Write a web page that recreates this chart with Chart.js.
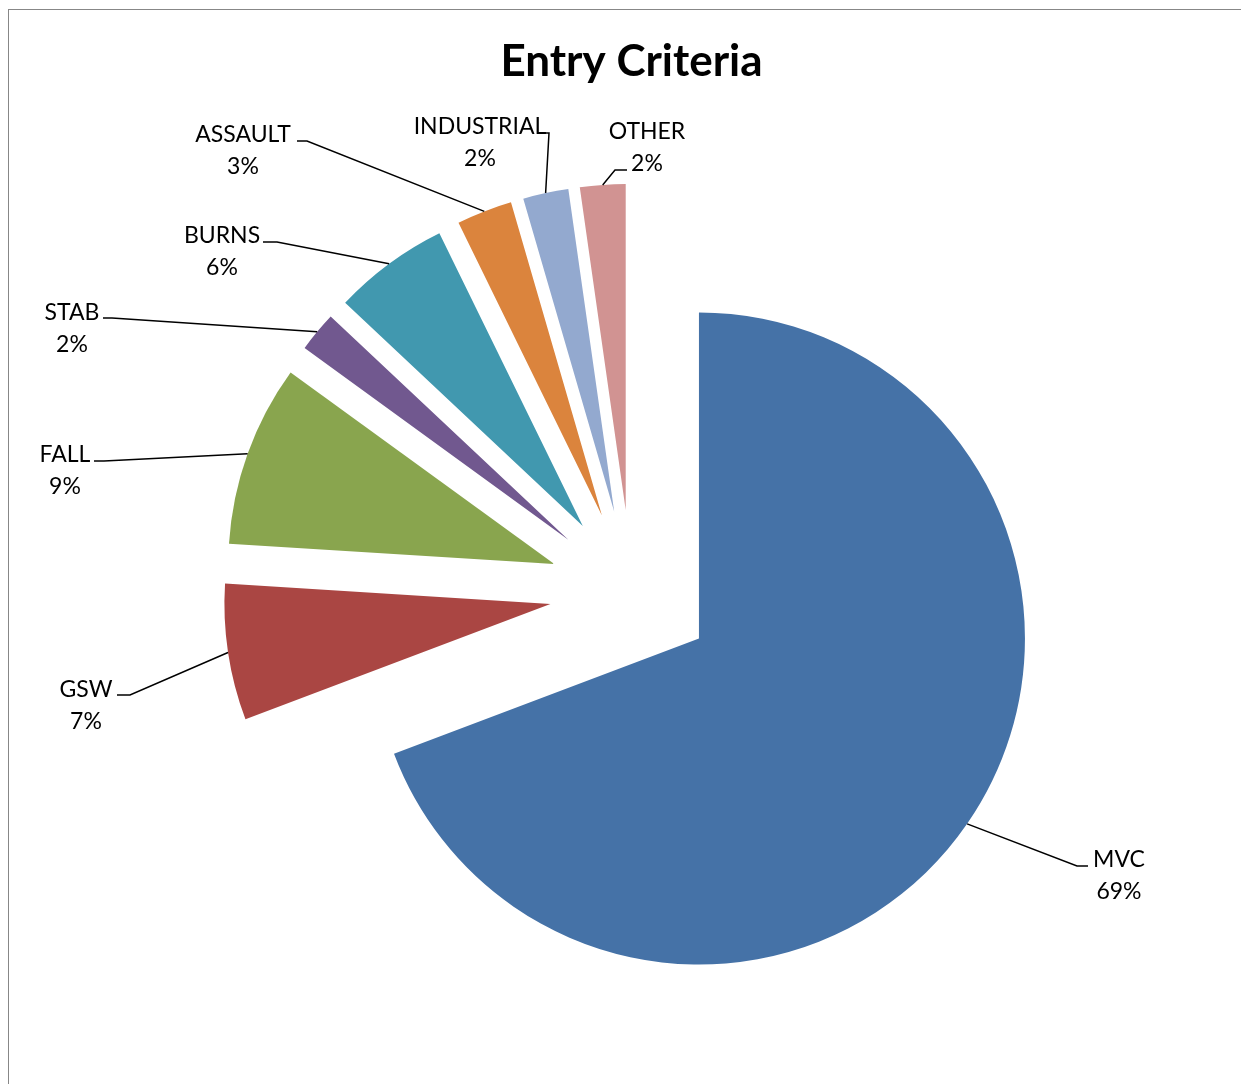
<!DOCTYPE html>
<html>
<head>
<meta charset="utf-8">
<title>Entry Criteria</title>
<script src="https://cdn.jsdelivr.net/npm/chart.js@4.4.1/dist/chart.umd.min.js"></script>
<style>
  html, body { margin: 0; padding: 0; background: #fff; overflow: hidden; }
  #wrap { position: relative; width: 1241px; height: 1084px; }
  #frame { position: absolute; left: 8px; top: 9px; width: 1300px; height: 1200px;
           border: 1px solid #878787; pointer-events: none; }
</style>
</head>
<body>
<div id="wrap">
  <canvas id="myChart"></canvas>
  <div id="frame"></div>
</div>
<script>
// data (counts, rounded percentages shown as labels)
const categories = ['MVC', 'GSW', 'FALL', 'STAB', 'BURNS', 'ASSAULT', 'INDUSTRIAL', 'OTHER'];
const counts = [277, 27, 36, 8, 23, 11, 9, 9];
const sliceColors = ['#4572A7', '#AA4643', '#89A54E', '#71588F', '#4198AF', '#DB843D', '#93A9CF', '#D19392'];

// where each data label sits, and where its leader line bends and ends
const labelLayout = [
    { x: 1119, y: 876, bend: [1077, 866], end: [1088, 866] },
    { x: 86,   y: 706, bend: [130, 695],  end: [117, 695] },
    { x: 65,   y: 471, bend: [104, 461],  end: [94, 461] },
    { x: 72,   y: 329, bend: [112, 318],  end: [103, 318] },
    { x: 222,  y: 252, bend: [277, 242],  end: [263, 242] },
    { x: 243,  y: 151, bend: [307, 141],  end: [297, 141] },
    { x: 480,  y: 143, bend: [549, 133],  end: [545, 133] },
    { x: 647,  y: 148, bend: [615, 170],  end: [627, 170] }
];

const explode = 82;     // every slice pulled out by the same distance
const pieRadius = 326;

// push each arc outward along its mid angle (Excel style explosion)
const explodePlugin = {
    id: 'explode',
    afterDatasetsUpdate(chart) {
        chart.getDatasetMeta(0).data.forEach(arc => {
            const mid = (arc.startAngle + arc.endAngle) / 2;
            arc.x += Math.cos(mid) * explode;
            arc.y += Math.sin(mid) * explode;
        });
    }
};

const labelPlugin = {
    id: 'sliceLabels',
    afterDatasetsDraw(chart) {
        const ctx = chart.ctx;
        const total = counts.reduce((a, b) => a + b, 0);
        ctx.save();
        chart.getDatasetMeta(0).data.forEach((arc, i) => {
            const mid = (arc.startAngle + arc.endAngle) / 2;
            const sx = arc.x + Math.cos(mid) * arc.outerRadius;
            const sy = arc.y + Math.sin(mid) * arc.outerRadius;
            const lay = labelLayout[i];
            ctx.beginPath();
            ctx.moveTo(sx, sy);
            ctx.lineTo(lay.bend[0], lay.bend[1]);
            ctx.lineTo(lay.end[0], lay.end[1]);
            ctx.strokeStyle = '#000';
            ctx.lineWidth = 1.5;
            ctx.stroke();

            ctx.fillStyle = '#000';
            ctx.font = '23px Lato';
            ctx.textAlign = 'center';
            ctx.textBaseline = 'middle';
            ctx.fillText(categories[i], lay.x, lay.y - 16);
            ctx.fillText(Math.round(counts[i] / total * 100) + '%', lay.x, lay.y + 16);
        });
        ctx.restore();
    }
};

const ctx = document.getElementById('myChart').getContext('2d');
const myChart = new Chart(ctx, {
    type: 'pie',
    data: {
        labels: categories,
        datasets: [{
            data: counts,
            backgroundColor: sliceColors,
            borderWidth: 0
        }]
    },
    options: {
        responsive: true,
        maintainAspectRatio: false,
        animation: false,
        events: [],
        radius: pieRadius,
        layout: { padding: { left: 22, right: 0, top: 0, bottom: 0 } },
        plugins: {
            legend: { display: false },
            tooltip: { enabled: false },
            title: {
                display: true,
                text: 'Entry Criteria',
                color: '#000',
                font: { family: 'Lato', size: 44, weight: 'bold' },
                padding: { top: 35, bottom: 12 }
            }
        }
    },
    plugins: [explodePlugin, labelPlugin]
});
</script>
</body>
</html>
